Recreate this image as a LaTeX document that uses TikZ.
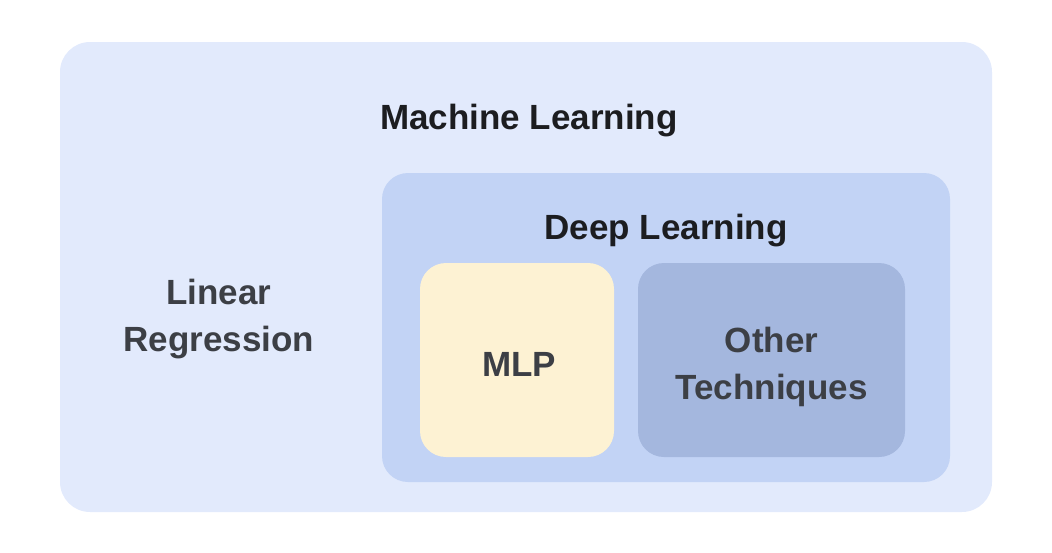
\documentclass[tikz,border=0pt]{standalone}
\usepackage{fontspec}
\setmainfont{Liberation Sans}
\usepackage{tikz}
\usetikzlibrary{positioning}
\definecolor{mlfill}{HTML}{E2EAFC}
\definecolor{dlfill}{HTML}{C2D3F5}
\definecolor{mlpfill}{HTML}{FDF2D3}
\definecolor{otherfill}{HTML}{A4B7DE}
\definecolor{titletext}{HTML}{1C1D20}
\definecolor{labeltext}{HTML}{3C3F45}
\tikzstyle{area} = [rectangle, rounded corners=30pt, draw=none, inner sep=0pt]
\tikzstyle{title} = [font=\fontsize{35}{42}\selectfont\bfseries, text=titletext, inner sep=0pt]
\tikzstyle{label} = [font=\fontsize{35}{47}\selectfont\bfseries, text=labeltext, align=center, inner sep=0pt]

\begin{document}
\begin{tikzpicture}[x=1pt, y=-1pt]
			\useasboundingbox (0,0) rectangle (1052,552);

			% Outer and inner areas
			\node[area, fill=mlfill, minimum width=932pt, minimum height=470pt] (ml) at (526,277) {};
			\node[area, rounded corners=26pt, fill=dlfill, minimum width=568pt, minimum height=309pt] (dl) at (666,327.5) {};
			\node[area, rounded corners=26pt, fill=mlpfill, minimum width=194pt, minimum height=194pt] (mlp) at (517,360) {};
			\node[area, rounded corners=26pt, fill=otherfill, minimum width=267pt, minimum height=194pt] (other) at (771.5,360) {};

			% Titles
			\node[title, anchor=base] (mltitle) at (529,129) {Machine Learning};
			\node[title, anchor=base] (dltitle) at (666,239) {Deep Learning};

			% Labels
			\node[label] (linreg) at (219,319) {Linear\\Regression};
			\node[label, anchor=base] (mlptext) at (519,376) {MLP};
			\node[label] (othertext) at (771.5,367) {Other\\Techniques};
\end{tikzpicture}
\end{document}
